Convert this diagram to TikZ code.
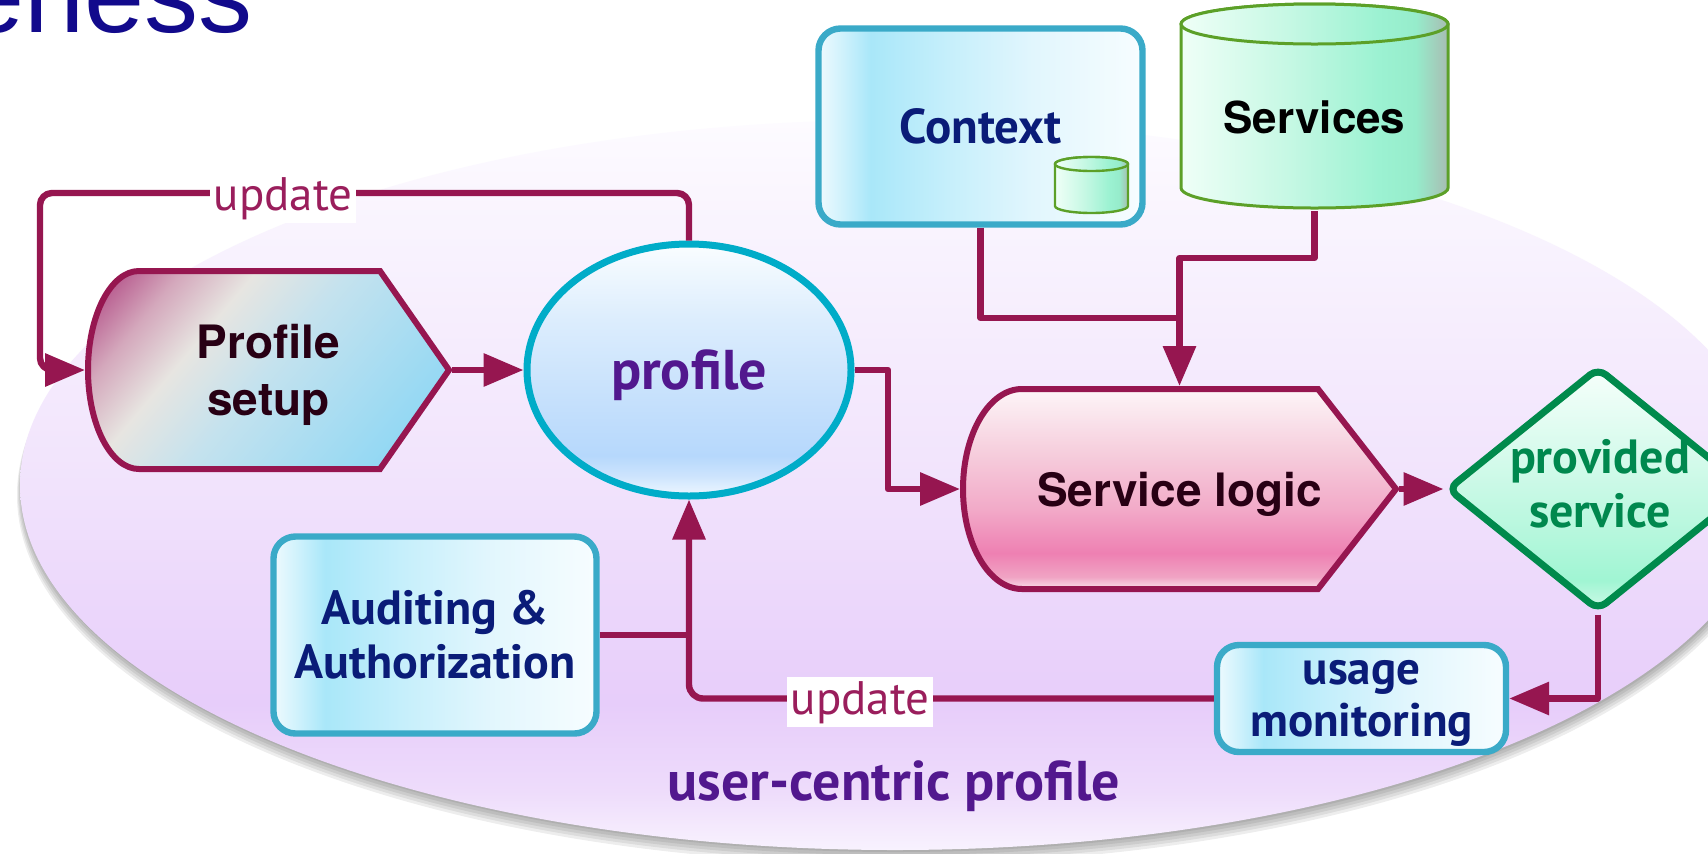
\documentclass[tikz,border=0pt]{standalone}
\usepackage{fontspec}
\setmainfont{PT Sans}
\newfontfamily\optf{PT Sans}
\newfontfamily\helv{TeX Gyre Heros}
\newfontfamily\titlef{Liberation Sans}
\usetikzlibrary{arrows.meta,shapes.geometric}

% line and text colours
\definecolor{conn}{RGB}{150,22,80}
\definecolor{profline}{RGB}{0,172,200}
\definecolor{boxline}{RGB}{58,170,200}
\definecolor{provline}{RGB}{0,138,76}
\definecolor{cylline}{RGB}{92,160,40}
\definecolor{navytext}{RGB}{10,28,120}
\definecolor{purpletext}{RGB}{82,24,142}
\definecolor{greentext}{RGB}{0,136,78}
\definecolor{darktext}{RGB}{40,0,20}
\definecolor{updtext}{RGB}{154,30,92}
\definecolor{titleblue}{RGB}{18,10,140}

% gradient colours
\definecolor{bgA}{HTML}{F8F2FE}\definecolor{bgB}{HTML}{EEDCFB}\definecolor{bgC}{HTML}{E7CDFA}
\definecolor{bgD}{HTML}{F1E3FC}\definecolor{bgE}{HTML}{F9F4FE}\definecolor{bgF}{HTML}{FDFBFF}
\definecolor{cyA}{HTML}{EEFAFE}\definecolor{cyB}{HTML}{CDF1FC}\definecolor{cyC}{HTML}{A9E7F9}
\definecolor{cyD}{HTML}{C6EFFB}\definecolor{cyE}{HTML}{E1F6FD}\definecolor{cyF}{HTML}{F7FDFF}
\definecolor{clA}{HTML}{EFFFF7}\definecolor{clB}{HTML}{C6F8E4}\definecolor{clC}{HTML}{9CF2D2}
\definecolor{clD}{HTML}{96ECCB}\definecolor{clE}{HTML}{A8BCB2}
\definecolor{psA}{HTML}{AD3A7C}\definecolor{psB}{HTML}{B75A8E}\definecolor{psC}{HTML}{D4A8BC}
\definecolor{psD}{HTML}{E7E5E1}\definecolor{psE}{HTML}{C4E2EE}\definecolor{psF}{HTML}{A6DCF2}
\definecolor{psG}{HTML}{80D4F4}
\definecolor{slA}{HTML}{F9E0EA}\definecolor{slB}{HTML}{F0A4C4}\definecolor{slC}{HTML}{EE80B2}
\definecolor{slD}{HTML}{F2AAC8}\definecolor{slE}{HTML}{F6D0DE}\definecolor{slF}{HTML}{FDF5F8}
\definecolor{prA}{HTML}{EEF7FF}\definecolor{prB}{HTML}{CDE4FD}\definecolor{prC}{HTML}{B6D8FC}
\definecolor{prD}{HTML}{C7E1FC}\definecolor{prE}{HTML}{DCEDFD}\definecolor{prF}{HTML}{FAFDFF}
\definecolor{pvA}{HTML}{D0FAE8}\definecolor{pvB}{HTML}{A0F5D3}\definecolor{pvC}{HTML}{B4F7DC}
\definecolor{pvD}{HTML}{D2FAEA}\definecolor{pvE}{HTML}{F6FFFB}

% shadings (25bp = bottom/left edge of the filled path, 75bp = top/right edge)
\pgfdeclareverticalshading{bgshade}{100bp}{color(0bp)=(bgA); color(25bp)=(bgA); color(29bp)=(bgB);
  color(35bp)=(bgC); color(50bp)=(bgD); color(68bp)=(bgE); color(75bp)=(bgF); color(100bp)=(bgF)}
\pgfdeclarehorizontalshading{cyangrad}{100bp}{color(0bp)=(cyA); color(25bp)=(cyA); color(29bp)=(cyB);
  color(33bp)=(cyC); color(45bp)=(cyD); color(58bp)=(cyE); color(75bp)=(cyF); color(100bp)=(cyF)}
\pgfdeclarehorizontalshading{cylgrad}{100bp}{color(0bp)=(clA); color(25bp)=(clA); color(45bp)=(clB);
  color(62bp)=(clC); color(69bp)=(clD); color(75bp)=(clE); color(100bp)=(clE)}
\pgfdeclarehorizontalshading{psgrad}{100bp}{color(0bp)=(psA); color(25bp)=(psA); color(28bp)=(psB);
  color(34bp)=(psC); color(41bp)=(psD); color(50bp)=(psE); color(61bp)=(psF); color(75bp)=(psG);
  color(100bp)=(psG)}
\pgfdeclareverticalshading{slgrad}{100bp}{color(0bp)=(slA); color(25bp)=(slA); color(28bp)=(slB);
  color(34bp)=(slC); color(45bp)=(slD); color(60bp)=(slE); color(75bp)=(slF); color(100bp)=(slF)}
\pgfdeclareverticalshading{profgrad}{100bp}{color(0bp)=(prA); color(25bp)=(prA); color(29bp)=(prB);
  color(33bp)=(prC); color(45bp)=(prD); color(60bp)=(prE); color(75bp)=(prF); color(100bp)=(prF)}
\pgfdeclareverticalshading{provgrad}{100bp}{color(0bp)=(pvA); color(25bp)=(pvA); color(31bp)=(pvB);
  color(40bp)=(pvC); color(55bp)=(pvD); color(75bp)=(pvE); color(100bp)=(pvE)}

\def\pxu{0.5pt}
% outline of the Profile setup step
\def\psoutline{(139,271) -- (380,271) -- (449,370) -- (380,469) -- (139,469)
  .. controls (111,469) and (88,425) .. (88,370)
  .. controls (88,315) and (111,271) .. (139,271) -- cycle}

\begin{document}
\begin{tikzpicture}[x=0.5pt, y=-0.5pt,
  conn/.style={draw=conn, line width=3.2pt, line join=round},
  arr/.style={conn, -{Triangle[length=20pt, width=16pt]}},
  shapeline/.style={draw=conn, line width=3pt},
  plainbox/.style={rectangle, inner sep=0pt, outer sep=1.5pt, align=center},
  helvtxt/.style={font=\helv\bfseries\fontsize{23pt}{28.5pt}\selectfont, text=darktext},
  cyanbox/.style={rectangle, rounded corners=11pt, draw=boxline, line width=3.2pt,
    shading=cyangrad, inner sep=0pt, align=center, text=navytext,
    font=\optf\bfseries\fontsize{24pt}{27pt}\selectfont},
  cylstyle/.style={draw=cylline, line width=1.5pt, shading=cylgrad},
  updlabel/.style={fill=white, text=updtext, inner sep=2pt,
    font=\optf\fontsize{23.5pt}{25pt}\selectfont}]

\useasboundingbox (0,0) rectangle (1708,853);
\fill[white] (0,0) rectangle (1708,853);

% heading fragment at the top edge
\node[anchor=base east, inner sep=0pt, text=titleblue,
  font=\titlef\fontsize{54pt}{60pt}\selectfont] (title) at (253,32) {eness};

% user-centric profile area with soft shadow
\foreach \k in {0,...,4}
  \fill[black, opacity=0.07] (896,{487+2*\k}) ellipse [x radius={437.5pt+0.5pt*\k}, y radius={182.5pt+0.5pt*\k}];
\shade[shading=bgshade] (895,485) ellipse [x radius=437.5pt, y radius=182.5pt];

% Profile setup: diagonal gradient clipped to the outline
\begin{scope}
  \clip \psoutline;
  \shade[shading=psgrad, transform canvas={rotate around={-40:(268.5,370)}}]
    (66.5,70) rectangle (470.5,670);
\end{scope}
\draw[shapeline] \psoutline;
\node[plainbox, helvtxt, text depth=0pt, minimum width=361*\pxu, minimum height=198*\pxu] (ps) at (268.5,370) {Profile\\setup};

% profile
\node[ellipse, draw=profline, line width=3.5pt, shading=profgrad, inner sep=0pt,
  minimum width=324*\pxu, minimum height=252*\pxu, text depth=0pt, text=purpletext,
  font=\optf\bfseries\fontsize{28pt}{30pt}\selectfont] (prof) at (689,370) {profile};

% Context with its small store
\node[cyanbox, minimum width=324*\pxu, minimum height=196*\pxu, text depth=0pt,
  font=\optf\bfseries\fontsize{24.5pt}{27pt}\selectfont] (ctx) at (980.5,126.5) {Context};
\path[cylstyle, line width=1.2pt] (1055,164) -- (1055,206)
  arc[start angle=180, end angle=360, x radius=18.25pt, y radius=3.5pt] -- (1128,164)
  arc[start angle=0, end angle=180, x radius=18.25pt, y radius=3.5pt] -- cycle;
\path[cylstyle, line width=1.2pt] (1091.5,164) ellipse [x radius=18.25pt, y radius=3.5pt];

% Services store
\path[cylstyle] (1181,24) -- (1181,188)
  arc[start angle=180, end angle=360, x radius=66.75pt, y radius=10pt] -- (1448,24)
  arc[start angle=0, end angle=180, x radius=66.75pt, y radius=10pt] -- cycle;
\path[cylstyle] (1314.5,24) ellipse [x radius=66.75pt, y radius=10pt];
\node[plainbox, minimum width=269*\pxu, minimum height=182*\pxu, text=black,
  font=\helv\bfseries\fontsize{22pt}{26pt}\selectfont] (svc) at (1314.5,117) {Services};

% Service logic
\path[shapeline, shading=slgrad]
  (1022,389) -- (1318,389) -- (1396,489) -- (1318,589) -- (1022,589)
  .. controls (989,589) and (963,544) .. (963,489)
  .. controls (963,434) and (989,389) .. (1022,389) -- cycle;
\node[plainbox, helvtxt, text depth=0pt, minimum width=433*\pxu, minimum height=200*\pxu] (sl) at (1179.5,489) {Service logic};

% provided service
\node[diamond, draw=provline, line width=3.5pt, rounded corners=5pt, shading=provgrad,
  minimum width=302*\pxu, minimum height=244*\pxu, inner sep=0pt] (prov) at (1598,489) {};
\node[inner sep=0pt, align=center, text=greentext,
  font=\optf\bfseries\fontsize{24pt}{27pt}\selectfont] (provtxt) at (1600,484) {provided\\service};

% Auditing & Authorization, usage monitoring
\node[cyanbox, minimum width=323*\pxu, minimum height=197*\pxu] (aud) at (435,635) {Auditing \&\\Authorization};
\node[cyanbox, minimum width=289*\pxu, minimum height=107*\pxu, text depth=0pt,
  font=\optf\bfseries\fontsize{23.5pt}{26pt}\selectfont] (usage) at (1361.5,698.5) {usage\\monitoring};

% connectors
\coordinate (loopL) at (40,193);
\coordinate (j1) at (888,430);
\coordinate (ctxj) at (1179.5,318);
\coordinate (svcj) at (1179.5,258);

\draw[arr, rounded corners=6pt] (prof.north) |- (loopL) |- (ps.west);
\draw[arr] (ps.east) -- (prof.west);
\draw[arr] (prof.east) -| (j1) |- (sl.west);
\draw[conn] (ctx.south) |- (ctxj);
\draw[arr] (svc.south) |- (svcj) -- (sl.north);
\draw[arr] (sl.east) -- (prov.west);
\draw[arr] (prov.south) |- (usage.east);
\draw[arr, rounded corners=7pt] (usage.west) -| (prof.south);
\draw[conn] (aud.east) -- (aud.east -| prof.south);

% connector labels
\node[updlabel, anchor=base] (upd1) at (283,210) {update};
\node[updlabel, anchor=base] (upd2) at (860,714) {update};

% area caption
\node[anchor=base, inner sep=0pt, text=purpletext,
  font=\optf\bfseries\fontsize{28pt}{30pt}\selectfont] (uc) at (894,800) {user-centric profile};
\end{tikzpicture}
\end{document}
